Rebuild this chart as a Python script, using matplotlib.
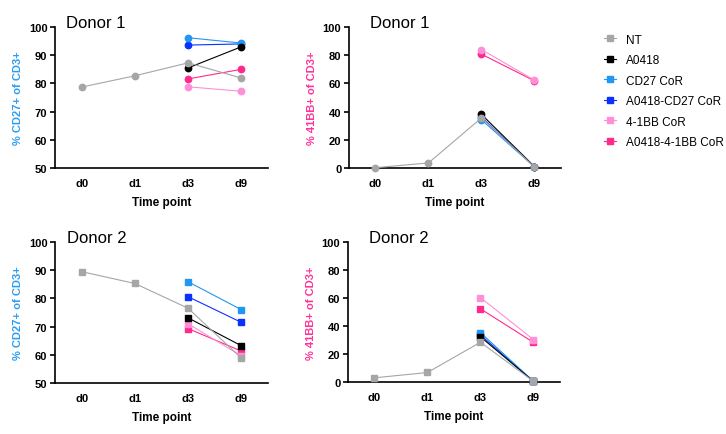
import numpy as np
import matplotlib.pyplot as plt
from matplotlib.lines import Line2D

plt.rcParams['font.family'] = ['Liberation Sans', 'DejaVu Sans']

time_points = ['d0', 'd1', 'd3', 'd9']
groups = ['NT', 'A0418', 'CD27 CoR', 'A0418-CD27 CoR', '4-1BB CoR', 'A0418-4-1BB CoR']
colors = ['#a6a6a6', '#000000', '#2196f3', '#0a32ff', '#ff8fd8', '#ff2a8c']

# values per group; None where there is no measurement
donor1_cd27 = [
    [78.7, 82.7, 87.3, 81.9],
    [None, None, 85.5, 93.0],
    [None, None, 96.2, 94.3],
    [None, None, 93.6, 94.0],
    [None, None, 78.8, 77.2],
    [None, None, 81.6, 85.0],
]
donor1_41bb = [
    [0.2, 3.6, 35.5, 0.8],
    [None, None, 38.0, 1.0],
    [None, None, 34.2, 0.8],
    [None, None, 36.0, 0.8],
    [None, None, 84.0, 62.3],
    [None, None, 80.7, 61.8],
]
donor2_cd27 = [
    [89.5, 85.3, 76.5, 58.8],
    [None, None, 73.1, 63.2],
    [None, None, 85.9, 76.0],
    [None, None, 80.6, 71.5],
    [None, None, 71.0, 59.6],
    [None, None, 69.3, 61.3],
]
donor2_41bb = [
    [3.0, 6.8, 28.4, 0.5],
    [None, None, 32.3, 0.5],
    [None, None, 35.3, 0.5],
    [None, None, 33.6, 0.5],
    [None, None, 60.3, 30.3],
    [None, None, 52.3, 28.3],
]

panels = [
    # data, marker, ylim, yticks, ylabel, ylabel color, title, title x, rect
    (donor1_cd27, 'o', (50, 100), np.arange(50, 101, 10), '% CD27+ of CD3+', '#2a9df4', 'Donor 1', 0.05,
     [0.0758, 0.6115, 0.2934, 0.3241]),
    (donor1_41bb, 'o', (0, 100), np.arange(0, 101, 20), '% 41BB+ of CD3+', '#ff3399', 'Donor 1', 0.10,
     [0.4807, 0.6115, 0.2920, 0.3241]),
    (donor2_cd27, 's', (50, 100), np.arange(50, 101, 10), '% CD27+ of CD3+', '#2a9df4', 'Donor 2', 0.057,
     [0.0758, 0.1172, 0.2934, 0.3241]),
    (donor2_41bb, 's', (0, 100), np.arange(0, 101, 20), '% 41BB+ of CD3+', '#ff3399', 'Donor 2', 0.10,
     [0.4793, 0.1195, 0.2920, 0.3218]),
]

fig = plt.figure(figsize=(7.26, 4.35), dpi=100)

x = np.arange(len(time_points))
for data, mk, ylim, yticks, ylabel, ycol, title, tx, rect in panels:
    ax = fig.add_axes(rect)
    # draw in reverse so NT ends on top
    for i in reversed(range(len(groups))):
        vals = np.array([np.nan if v is None else v for v in data[i]], dtype=float)
        ok = ~np.isnan(vals)
        ax.plot(x[ok], vals[ok], color=colors[i], lw=0.8, marker=mk, ms=4.6,
                mec=colors[i], mfc=colors[i], clip_on=False, zorder=3 + (len(groups) - i))
    ax.set_xlim(-0.5, 3.5)
    ax.set_ylim(*ylim)
    ax.set_yticks(yticks)
    ax.set_xticks(x)
    ax.set_xticklabels(time_points)
    for s in ['top', 'right']:
        ax.spines[s].set_visible(False)
    for s in ['left', 'bottom']:
        ax.spines[s].set_linewidth(1.2)
    ax.tick_params(axis='y', length=3.5, width=1.2, labelsize=8, pad=2)
    ax.tick_params(axis='x', length=0, labelsize=8, pad=7)
    for lab in ax.get_xticklabels() + ax.get_yticklabels():
        lab.set_fontweight('bold')
    ax.set_xlabel('Time point', fontsize=8.5, fontweight='bold', labelpad=6)
    ax.set_ylabel(ylabel, fontsize=8, fontweight='bold', color=ycol, labelpad=4)
    ax.text(tx, 1.035, title, transform=ax.transAxes, fontsize=12, va='center', ha='left')

handles = [Line2D([0], [0], color=c, lw=0.8, marker='s', ms=4.4, mec=c, mfc=c) for c in colors]
fig.legend(handles, groups, loc='upper left', bbox_to_anchor=(0.818, 0.945), frameon=False,
           fontsize=8.5, handlelength=1.0, handletextpad=0.8, labelspacing=0.72)

fig.savefig('out.png', dpi=100)
